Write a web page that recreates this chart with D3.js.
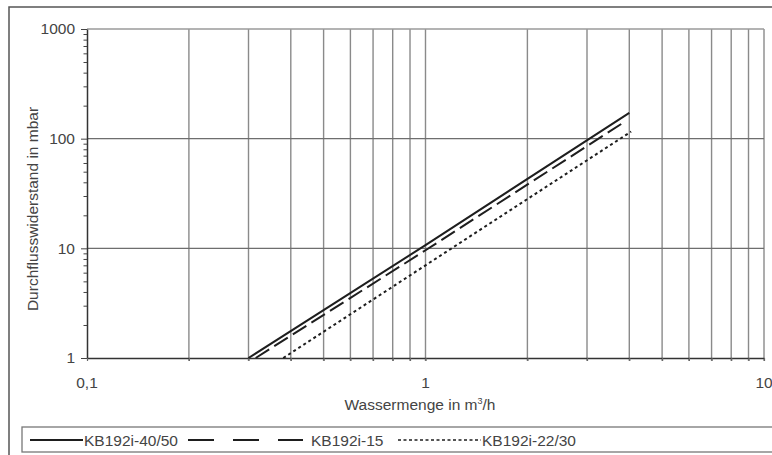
<!DOCTYPE html>
<html><head><meta charset="utf-8">
<script src="https://cdn.jsdelivr.net/npm/d3@7"></script>
<style>html,body{margin:0;padding:0;background:#fff;}svg{display:block;}</style>
</head><body>
<script>
// ---- data ----
const xTickValues = [0.1,0.2,0.3,0.4,0.5,0.6,0.7,0.8,0.9,1,2,3,4,5,6,7,8,9,10];
const xLabelValues = [0.1, 1, 10];
const xLabelTexts = ["0,1", "1", "10"];
const yTickValues = [1,2,3,4,5,6,7,8,9,10,20,30,40,50,60,70,80,90,100,200,300,400,500,600,700,800,900,1000];
const yLabelValues = [1, 10, 100, 1000];
const yLabelTexts = ["1", "10", "100", "1000"];
const seriesNames = ["KB192i-40/50", "KB192i-15", "KB192i-22/30"];
const flow4050 = [0.3, 1, 4];
const drop4050 = [1, 10.7, 172];
const flow15 = [0.315, 1, 3.8];
const drop15 = [1, 9.6, 137];
const flow2230 = [0.38, 1, 4.05];
const drop2230 = [1, 7.0, 116];

const W = 772, H = 455;
const svg = d3.select("body").append("svg").attr("width", W).attr("height", H);
const font = "'Liberation Sans', Arial, Helvetica, sans-serif";
const txt = "#444";

const x = d3.scaleLog().domain([0.1, 10]).range([87, 764]);
const y = d3.scaleLog().domain([1, 1000]).range([358, 29]);

// outer frame
svg.append("rect").attr("x", 9).attr("y", 7).attr("width", 800).attr("height", 500)
  .attr("fill", "none").attr("stroke", "#555").attr("stroke-width", 1.5);

// vertical grid lines
svg.append("g").selectAll("line").data(xTickValues.filter(d => d > 0.1)).join("line")
  .attr("x1", d => x(d)).attr("x2", d => x(d))
  .attr("y1", y(1000)).attr("y2", y(1) + 3)
  .attr("stroke", "#8a8a8a").attr("stroke-width", 1.4);

// horizontal grid lines at decades
svg.append("g").selectAll("line").data([10, 100]).join("line")
  .attr("x1", x(0.1)).attr("x2", x(10))
  .attr("y1", d => y(d)).attr("y2", d => y(d))
  .attr("stroke", "#6e6e6e").attr("stroke-width", 1.3);
svg.append("line").attr("x1", x(0.1)).attr("x2", x(10)).attr("y1", y(1000)).attr("y2", y(1000))
  .attr("stroke", "#9a9a9a").attr("stroke-width", 1.3);

// y axis
const yAxis = d3.axisLeft(y).tickValues(yTickValues).tickSizeInner(4).tickSizeOuter(0).tickFormat("");
const gy = svg.append("g").attr("transform", `translate(${x(0.1)},0)`).call(yAxis);
gy.select(".domain").attr("stroke", "#333").attr("stroke-width", 1.5);
gy.selectAll(".tick line").attr("stroke", "#444").attr("stroke-width", 1)
  .attr("x2", d => yLabelValues.includes(d) ? -6 : -3.5);
svg.append("g").selectAll("text").data(yLabelValues).join("text")
  .attr("x", 75).attr("y", d => y(d)).attr("dy", "0.35em")
  .attr("text-anchor", "end").attr("font-family", font).attr("font-size", 15.5).attr("fill", txt)
  .text((d, i) => yLabelTexts[i]);

// x axis
const xAxis = d3.axisBottom(x).tickValues(xTickValues).tickSizeInner(3).tickSizeOuter(0).tickFormat("");
const gx = svg.append("g").attr("transform", `translate(0,${y(1)})`).call(xAxis);
gx.select(".domain").attr("stroke", "#333").attr("stroke-width", 1.5);
gx.selectAll(".tick line").attr("stroke", "#666").attr("stroke-width", 1.2);
svg.append("g").selectAll("text").data(xLabelValues).join("text")
  .attr("x", d => x(d)).attr("y", 388)
  .attr("text-anchor", "middle").attr("font-family", font).attr("font-size", 15.5).attr("fill", txt)
  .text((d, i) => xLabelTexts[i]);

// axis titles
svg.append("text").attr("x", 420).attr("y", 410).attr("text-anchor", "middle")
  .attr("font-family", font).attr("font-size", 15.5).attr("fill", txt)
  .html("Wassermenge in m<tspan font-size='9' dy='-6'>3</tspan><tspan dy='6'>/h</tspan>");
svg.append("text").attr("transform", "translate(38,209) rotate(-90)").attr("text-anchor", "middle")
  .attr("font-family", font).attr("font-size", 15.5).attr("fill", txt)
  .text("Durchflusswiderstand in mbar");

// series
const line = d3.line().x(d => x(d[0])).y(d => y(d[1]));
const series = [
  {flow: flow4050, drop: drop4050, dash: null, w: 2},
  {flow: flow15, drop: drop15, dash: "16,6", w: 2},
  {flow: flow2230, drop: drop2230, dash: "3,3", w: 2}
];
svg.append("g").selectAll("path").data(series).join("path")
  .attr("d", s => line(s.flow.map((f, i) => [f, s.drop[i]])))
  .attr("fill", "none").attr("stroke", "#1e1e1e").attr("stroke-width", s => s.w)
  .attr("stroke-dasharray", s => s.dash);

// legend
svg.append("rect").attr("x", 22).attr("y", 427).attr("width", 780).attr("height", 25)
  .attr("fill", "#fff").attr("stroke", "#777").attr("stroke-width", 1.3);
const leg = [
  {x1: 30, x2: 83, tx: 84, dash: null},
  {x1: 188, x2: 303, tx: 311, dash: "26,19"},
  {x1: 398, x2: 481, tx: 482, dash: "3,2.5"}
];
leg.forEach((l, i) => {
  svg.append("line").attr("x1", l.x1).attr("x2", l.x2).attr("y1", 440).attr("y2", 440)
    .attr("stroke", "#1e1e1e").attr("stroke-width", i === 2 ? 1.5 : 1.8).attr("stroke-dasharray", l.dash);
  svg.append("text").attr("x", l.tx).attr("y", 440).attr("dy", "0.36em")
    .attr("font-family", font).attr("font-size", 15.5).attr("fill", txt).text(seriesNames[i]);
});
</script>
</body></html>
